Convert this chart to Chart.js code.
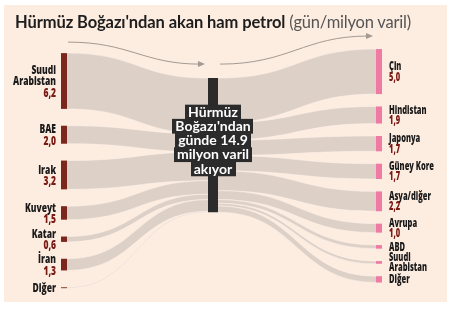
<!DOCTYPE html>
<html lang="tr">
<head>
<meta charset="utf-8">
<title>Hürmüz Boğazı'ndan akan ham petrol</title>
<script src="https://cdn.jsdelivr.net/npm/chart.js@4.4.1/dist/chart.umd.min.js"></script>
<style>
    html, body { margin: 0; padding: 0; background: #fff; }
    #wrap { position: relative; width: 452px; height: 309px; }
    #flowChart { position: absolute; left: 0; top: 0; }
    #title {
        position: absolute; left: 15px; top: 14px;
        font: 700 16.5px Lato, "Open Sans", sans-serif; line-height: 16px;
        color: #1d1d1d; white-space: nowrap; letter-spacing: -0.1px;
    }
    #title span { font-weight: 400; color: #555; letter-spacing: -0.2px; }
</style>
</head>
<body>
<div id="wrap">
    <canvas id="flowChart" width="452" height="309"></canvas>
    <div id="title">Hürmüz Boğazı'ndan akan ham petrol <span>(gün/milyon varil)</span></div>
</div>
<script>
/**
 * Hormuz crude flow (million barrels / day)
 * Sources on the left, destinations on the right
 */

// Data
const sourceNames = [['Suudi', 'Arabistan'], ['BAE'], ['Irak'], ['Kuveyt'], ['Katar'], ['İran'], ['Diğer']];
const sourceValues = [6.2, 2.0, 3.2, 1.5, 0.6, 1.3, 0.1];
const sourceValueLabels = ['6,2', '2,0', '3,2', '1,5', '0,6', '1,3', ''];

const destNames = [['Çin'], ['Hindistan'], ['Japonya'], ['Güney Kore'], ['Asya/diğer'], ['Avrupa'], ['ABD'], ['Suudi', 'Arabistan'], ['Diğer']];
const destValues = [5.0, 1.9, 1.7, 1.7, 2.2, 1.0, 0.4, 0.3, 0.7];
const destValueLabels = ['5,0', '1,9', '1,7', '1,7', '2,2', '1,0', '', '', ''];

const centerLines = ['Hürmüz', "Boğazı'ndan", 'günde 14.9', 'milyon varil', 'akıyor'];

// Layout (x axis in px, y axis in million barrels: 9 px per unit)
const X_MAX = 452;
const Y_MAX = 309 / 9;
const COL_LEFT = 64, COL_MID = 213, COL_RIGHT = 379;
const TOP_LEFT = 5.9, TOP_MID = 8.68, TOP_RIGHT = 5.45;
const GAP_LEFT = 1.87, GAP_RIGHT = 1.38;
const BAR_SIDE = 6, BAR_MID = 10;

const COLORS = {
    panel: '#fdece0',
    flow: '#dcd0c7',
    flowEdge: 'rgba(255, 244, 236, 0.85)',
    source: '#7b271d',
    mid: '#2b2b2b',
    dest: '#ef7ba4',
    name: '#1a1a1a',
    value: '#7a1a14',
    arrow: '#a39a92'
};

const LABEL_FONT = '"Open Sans", "Roboto", sans-serif';

/**
 * Stack values top-down with a gap between them
 */
function stack(values, top, gap) {
    let cursor = top;
    return values.map(v => {
        const span = [cursor, cursor + v];
        cursor += v + gap;
        return span;
    });
}

const total = sourceValues.reduce((a, b) => a + b, 0);
const leftSpans = stack(sourceValues, TOP_LEFT, GAP_LEFT);
const rightSpans = stack(destValues, TOP_RIGHT, GAP_RIGHT);
const midSpan = [TOP_MID, TOP_MID + total];

// Slots on the middle bar, incoming and outgoing
const midInSpans = stack(sourceValues, TOP_MID, 0);
const midOutSpans = stack(destValues, TOP_MID, 0);

function ribbon(ctx, x0, a0, b0, x1, a1, b1) {
    const mx = (x0 + x1) / 2;
    ctx.beginPath();
    ctx.moveTo(x0, a0);
    ctx.bezierCurveTo(mx, a0, mx, a1, x1, a1);
    ctx.lineTo(x1, b1);
    ctx.bezierCurveTo(mx, b1, mx, b0, x0, b0);
    ctx.closePath();
    ctx.fillStyle = COLORS.flow;
    ctx.fill();

    // thin light edges so neighbouring ribbons stay apart
    ctx.strokeStyle = COLORS.flowEdge;
    ctx.lineWidth = 0.6;
    ctx.beginPath();
    ctx.moveTo(x0, a0);
    ctx.bezierCurveTo(mx, a0, mx, a1, x1, a1);
    ctx.moveTo(x0, b0);
    ctx.bezierCurveTo(mx, b0, mx, b1, x1, b1);
    ctx.stroke();
}

function arrow(ctx, x0, y0, x1, y1) {
    const k = (x1 - x0) * 0.45;
    ctx.strokeStyle = COLORS.arrow;
    ctx.fillStyle = COLORS.arrow;
    ctx.lineWidth = 1;
    ctx.beginPath();
    ctx.moveTo(x0, y0);
    ctx.bezierCurveTo(x0 + k, y0, x1 - k, y1, x1 - 5, y1);
    ctx.stroke();
    ctx.beginPath();
    ctx.moveTo(x1, y1);
    ctx.lineTo(x1 - 7, y1 - 3);
    ctx.lineTo(x1 - 7, y1 + 3);
    ctx.closePath();
    ctx.fill();
}

/**
 * Name lines + value line, squeezed horizontally like a condensed face
 */
function labelBlock(ctx, x, yc, lines, value, align, size, lh, refWidth) {
    const rows = value ? lines.concat([value]) : lines;
    const top = yc - (rows.length - 1) * lh / 2;
    ctx.font = `800 ${size}px ${LABEL_FONT}`;
    const squeeze = Math.min(1, refWidth / ctx.measureText('Arabistan').width);
    ctx.textAlign = align;
    ctx.textBaseline = 'middle';
    rows.forEach((text, i) => {
        const isValue = value && i === rows.length - 1;
        ctx.save();
        ctx.translate(x, top + i * lh);
        ctx.scale(squeeze, 1);
        ctx.fillStyle = isValue ? COLORS.value : COLORS.name;
        ctx.fillText(text, 0, 0);
        ctx.restore();
    });
}

// Background panel
const panelPlugin = {
    id: 'panel',
    beforeDraw(chart) {
        const ctx = chart.ctx;
        ctx.save();
        ctx.fillStyle = '#ffffff';
        ctx.fillRect(0, 0, chart.width, chart.height);
        ctx.fillStyle = COLORS.panel;
        ctx.fillRect(4, 5, 443, 297);
        ctx.restore();
    }
};

// Flows and arrows, under the bars
const flowPlugin = {
    id: 'flows',
    beforeDatasetsDraw(chart) {
        const ctx = chart.ctx;
        const xs = chart.scales.x;
        const ys = chart.scales.y;
        const leftEdge = xs.getPixelForValue(COL_LEFT) + BAR_SIDE / 2;
        const midIn = xs.getPixelForValue(COL_MID) - BAR_MID / 2;
        const midOut = xs.getPixelForValue(COL_MID) + BAR_MID / 2;
        const rightEdge = xs.getPixelForValue(COL_RIGHT) - BAR_SIDE / 2;

        ctx.save();
        leftSpans.forEach((span, i) => {
            ribbon(ctx,
                leftEdge, ys.getPixelForValue(span[0]), ys.getPixelForValue(span[1]),
                midIn, ys.getPixelForValue(midInSpans[i][0]), ys.getPixelForValue(midInSpans[i][1]));
        });
        rightSpans.forEach((span, i) => {
            ribbon(ctx,
                midOut, ys.getPixelForValue(midOutSpans[i][0]), ys.getPixelForValue(midOutSpans[i][1]),
                rightEdge, ys.getPixelForValue(span[0]), ys.getPixelForValue(span[1]));
        });

        // direction arrows above the flows
        const midTop = ys.getPixelForValue(midSpan[0]);
        arrow(ctx, leftEdge + 1, ys.getPixelForValue(leftSpans[0][0]) - 11, midIn - 3, midTop - 14);
        arrow(ctx, midOut + 2, midTop - 14, rightEdge - 3, ys.getPixelForValue(rightSpans[0][0]) - 13);
        ctx.restore();
    },

    afterDatasetsDraw(chart) {
        const ctx = chart.ctx;
        const xs = chart.scales.x;
        const ys = chart.scales.y;
        const mid = (span) => (ys.getPixelForValue(span[0]) + ys.getPixelForValue(span[1])) / 2;

        ctx.save();
        // source labels
        const lx = xs.getPixelForValue(COL_LEFT) - BAR_SIDE / 2 - 5;
        leftSpans.forEach((span, i) => {
            labelBlock(ctx, lx, mid(span) + 1, sourceNames[i], sourceValueLabels[i], 'right', 12, 11.5, 43);
        });

        // destination labels
        const rx = xs.getPixelForValue(COL_RIGHT) + BAR_SIDE / 2 + 7;
        rightSpans.forEach((span, i) => {
            labelBlock(ctx, rx, mid(span) + 0.5, destNames[i], destValueLabels[i], 'left', 11.5, 10.5, 38);
        });

        // centre caption, one dark box per line
        const cx = xs.getPixelForValue(COL_MID);
        const lh = 14.2;
        const top = mid(midSpan) - 5 - centerLines.length * lh / 2;
        ctx.font = 'bold 14px Lato, "Open Sans", sans-serif';
        ctx.textAlign = 'center';
        ctx.textBaseline = 'middle';
        centerLines.forEach((line, i) => {
            const w = ctx.measureText(line).width + 6;
            ctx.fillStyle = COLORS.mid;
            ctx.fillRect(Math.round(cx - w / 2), top + i * lh, Math.round(w), lh + 0.6);
        });
        ctx.fillStyle = '#ffffff';
        centerLines.forEach((line, i) => {
            ctx.fillText(line, cx, top + i * lh + lh / 2 + 0.5);
        });
        ctx.restore();
    }
};

const barDefaults = { grouped: false, borderWidth: 0, borderSkipped: false };

new Chart(document.getElementById('flowChart'), {
    type: 'bar',
    data: {
        datasets: [
            Object.assign({
                label: 'Kaynak',
                data: leftSpans.map(span => ({ x: COL_LEFT, y: span })),
                backgroundColor: COLORS.source,
                maxBarThickness: BAR_SIDE
            }, barDefaults),
            Object.assign({
                label: 'Hürmüz',
                data: [{ x: COL_MID, y: midSpan }],
                backgroundColor: COLORS.mid,
                maxBarThickness: BAR_MID
            }, barDefaults),
            Object.assign({
                label: 'Varış',
                data: rightSpans.map(span => ({ x: COL_RIGHT, y: span })),
                backgroundColor: COLORS.dest,
                maxBarThickness: BAR_SIDE
            }, barDefaults)
        ]
    },
    options: {
        responsive: false,
        animation: false,
        events: [],
        layout: { padding: 0 },
        plugins: {
            legend: { display: false },
            title: { display: false },
            tooltip: { enabled: false }
        },
        scales: {
            x: { type: 'linear', min: 0, max: X_MAX, offset: false, display: false },
            y: { type: 'linear', min: 0, max: Y_MAX, reverse: true, display: false }
        }
    },
    plugins: [panelPlugin, flowPlugin]
});
</script>
</body>
</html>
